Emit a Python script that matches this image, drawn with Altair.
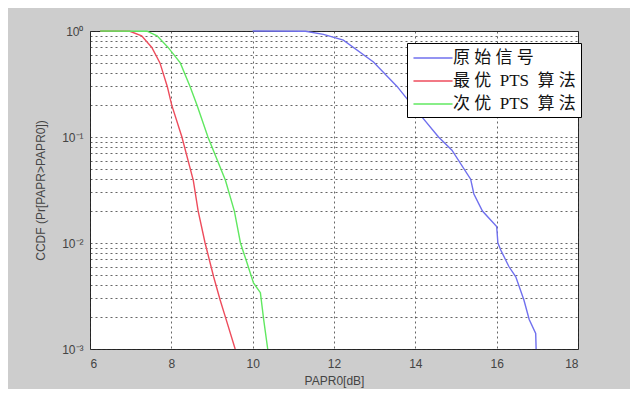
import altair as alt
import pandas as pd

series_names = ["原 始 信 号", "最 优\u2002PTS\u2002算 法", "次 优\u2002PTS\u2002算 法"]
series_colors = ["#7070ee", "#ee4c5c", "#60e860"]

blue_x = [10.0, 11.3, 11.74, 12.23, 12.97, 13.55, 13.92, 14.13, 14.57, 14.9, 15.36, 15.44, 15.65,
          16.0, 16.03, 16.1, 16.3, 16.47, 16.67, 16.8, 16.96, 16.97]
blue_y = [1.0, 0.995, 0.93, 0.82, 0.51, 0.3, 0.2, 0.16, 0.1, 0.075, 0.04, 0.029, 0.02,
          0.0143, 0.01, 0.0086, 0.006, 0.0048, 0.0029, 0.0019, 0.0014, 0.001]

red_x = [6.25, 6.98, 7.27, 7.52, 7.72, 7.9, 8.01, 8.26, 8.54, 8.66, 8.83, 9.04, 9.2, 9.33, 9.57]
red_y = [1.0, 0.995, 0.9, 0.7, 0.5, 0.3, 0.2, 0.1, 0.039, 0.02, 0.01, 0.0048, 0.0029, 0.002, 0.001]

green_x = [6.25, 7.4, 7.65, 7.92, 8.22, 8.46, 8.63, 8.9, 9.33, 9.55, 9.7, 9.86, 10.02, 10.19, 10.27, 10.37]
green_y = [1.0, 0.995, 0.9, 0.7, 0.5, 0.3, 0.2, 0.1, 0.039, 0.02, 0.01, 0.0065, 0.0042, 0.0034, 0.0019, 0.001]

x_ticks = [6, 8, 10, 12, 14, 16, 18]
y_ticks = [m * 10 ** e for e in (-3, -2, -1) for m in range(1, 10)] + [1.0]

rows = []
for name, xs, ys in zip(series_names, [blue_x, red_x, green_x], [blue_y, red_y, green_y]):
    for i, (a, b) in enumerate(zip(xs, ys)):
        rows.append({"series": name, "x": a, "y": b, "order": i})
df = pd.DataFrame(rows)

label_expr = ("datum.value == 1 ? '10⁰' : (abs(datum.value - 0.1) < 1e-9 ? '10⁻¹' : "
              "(abs(datum.value - 0.01) < 1e-10 ? '10⁻²' : (abs(datum.value - 0.001) < 1e-11 ? '10⁻³' : '')))")

chart = alt.Chart(df).mark_line(strokeWidth=1.4, clip=False).encode(
    x=alt.X("x:Q", scale=alt.Scale(domain=[6, 18], nice=False),
            axis=alt.Axis(values=x_ticks, title="PAPR0[dB]", grid=True, ticks=False, domain=False,
                          labelPadding=9, titlePadding=6)),
    y=alt.Y("y:Q", scale=alt.Scale(type="log", domain=[0.001, 1], nice=False),
            axis=alt.Axis(values=y_ticks, labelExpr=label_expr, title="CCDF (Pr[PAPR>PAPR0])",
                          grid=True, ticks=False, domain=False, labelPadding=7, titlePadding=14)),
    color=alt.Color("series:N", sort=series_names,
                    scale=alt.Scale(domain=series_names, range=series_colors),
                    legend=alt.Legend(title=None, orient="none", legendX=317, legendY=12,
                                      symbolType="M-2.17,0H2.17", symbolSize=324, symbolStrokeWidth=1.5,
                                      symbolOffset=11,
                                      strokeColor="black", fillColor="white", padding=5,
                                      labelFont="Liberation Serif, Noto Sans CJK SC",
                                      labelFontSize=17, labelColor="#111", rowPadding=5,
                                      labelOffset=10)),
    order="order:Q",
).properties(width=488, height=318, autosize=alt.AutoSizeParams(type="none"),
             padding={"left": 82, "top": 23, "right": 52, "bottom": 40})

chart = chart.configure(background="#cdcdcd").configure_view(
    fill="white", stroke="#222", strokeWidth=1
).configure_axis(
    gridColor="#333", gridDash=[2, 3], gridOpacity=0.75, gridWidth=1,
    labelFont="Liberation Sans", labelFontSize=12, labelColor="#444",
    titleFont="Liberation Sans", titleFontSize=12, titleColor="#444", titleFontWeight="normal"
)

chart.save("out.html", embed_options={"renderer": "svg", "actions": False})
